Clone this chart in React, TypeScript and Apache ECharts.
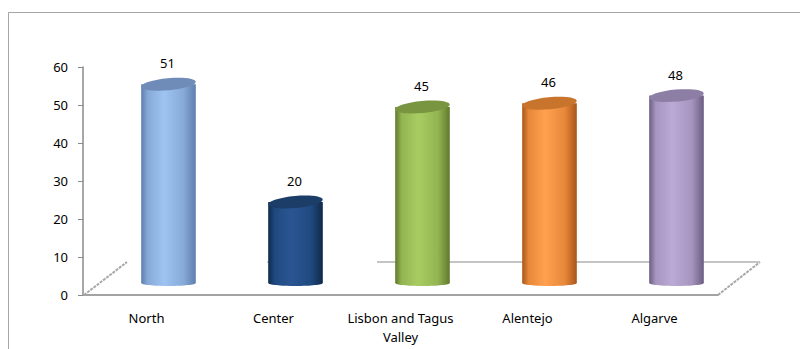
import React, { useEffect, useRef } from "react";
import * as echarts from "echarts";

const categories = ["North", "Center", "Lisbon and Tagus\nValley", "Alentejo", "Algarve"];
const values = [51, 20, 45, 46, 48];
const yTicks = { min: 0, max: 60, interval: 10 };

// palette: [edge, bright, mid, top]
const palettes = [
  ["#5f7fae", "#9fc4f2", "#86a9d8", "#6f8cb8"],
  ["#10294a", "#2a5592", "#1f4a80", "#1b3d68"],
  ["#62792c", "#a9cc62", "#93b552", "#7a9540"],
  ["#a9561a", "#ffa14f", "#e7883a", "#c8742c"],
  ["#6b5d82", "#bcaad6", "#a695bf", "#8c7ea5"],
];

const FONT = "'Noto Sans', 'DejaVu Sans', sans-serif";
const DX = 22;
const DY = -17;

export default function App() {
  const ref = useRef<HTMLDivElement>(null);
  useEffect(() => {
    if (!ref.current) return;
    const chart = echarts.init(ref.current, undefined, { renderer: "svg" });
    const gl = 83, gt = 67, gw = 635, gh = 228;
    const gb = gt + gh;
    const backY = gb - 33;
    const option: any = {
      animation: false,
      backgroundColor: "#ffffff",
      grid: { left: gl, top: gt, width: gw, height: gh },
      xAxis: {
        type: "category",
        data: categories,
        axisLine: { show: true, lineStyle: { color: "#a3a3a3", width: 2 } },
        axisTick: { show: false },
        axisLabel: { color: "#000", fontFamily: FONT, fontSize: 13, margin: 13, lineHeight: 19, interval: 0 },
      },
      yAxis: {
        type: "value",
        min: yTicks.min,
        max: yTicks.max,
        interval: yTicks.interval,
        axisLine: { show: true, lineStyle: { color: "#8a8a8a", width: 1.5 } },
        axisTick: { show: true, length: 5, lineStyle: { color: "#8a8a8a" } },
        axisLabel: { color: "#000", fontFamily: FONT, fontSize: 13, margin: 15 },
        splitLine: { show: false },
      },
      graphic: [
        { type: "rect", z: -10, shape: { x: 8.5, y: 12.5, width: 800, height: 400 }, style: { fill: "none", stroke: "#a6a6a6", lineWidth: 1 } },
        { type: "line", z: 0, shape: { x1: gl + 1, y1: gb, x2: gl + 44, y2: backY }, style: { stroke: "#a8a8a8", lineWidth: 2, lineDash: [3, 1] } },
        { type: "line", z: 0, shape: { x1: gl + gw, y1: gb, x2: gl + gw + 42, y2: backY }, style: { stroke: "#a8a8a8", lineWidth: 2, lineDash: [3, 1] } },
        { type: "line", z: 0, shape: { x1: 377, y1: backY, x2: gl + gw + 42, y2: backY }, style: { stroke: "#c4c4c4", lineWidth: 2 } },
        { type: "line", z: 0, shape: { x1: 267, y1: backY, x2: 277, y2: backY }, style: { stroke: "#d0d0d0", lineWidth: 2 } },
      ],
      series: [
        {
          type: "custom",
          z: 5,
          data: values.map((v, i) => [i, v]),
          encode: { x: 0, y: 1 },
          renderItem: (params: any, api: any) => {
            const i = api.value(0);
            const v = api.value(1);
            const top = api.coord([i, v]);
            const base = api.coord([i, 0]);
            const w = api.size([1, 0])[0] * 0.43;
            const cx = top[0] + DX;
            const ty = top[1] + DY;
            const by = base[1] + DY + 5;
            const p = palettes[i];
            const grad = new echarts.graphic.LinearGradient(0, 0, 1, 0, [
              { offset: 0, color: p[0] },
              { offset: 0.12, color: p[2] },
              { offset: 0.42, color: p[1] },
              { offset: 0.78, color: p[2] },
              { offset: 1, color: p[0] },
            ]);
            return {
              type: "group",
              children: [
                { type: "ellipse", shape: { cx: cx, cy: by, rx: w / 2, ry: 3 }, style: { fill: grad } },
                { type: "rect", shape: { x: cx - w / 2, y: ty, width: w, height: by - ty }, style: { fill: grad } },
                {
                  type: "ellipse",
                  x: cx,
                  y: ty,
                  rotation: 0.09,
                  shape: { cx: 0, cy: 0, rx: w / 2, ry: 6 },
                  style: { fill: p[3] },
                },
                {
                  type: "text",
                  x: cx - 1,
                  y: ty - 21,
                  style: { text: String(v), fill: "#000", font: "13px " + FONT, align: "center", verticalAlign: "middle" },
                },
              ],
            };
          },
        },
      ],
    };
    chart.setOption(option);
    return () => chart.dispose();
  }, []);
  return <div ref={ref} style={{ position: "fixed", left: 0, top: 0, width: 800, height: 349 }} />;
}
